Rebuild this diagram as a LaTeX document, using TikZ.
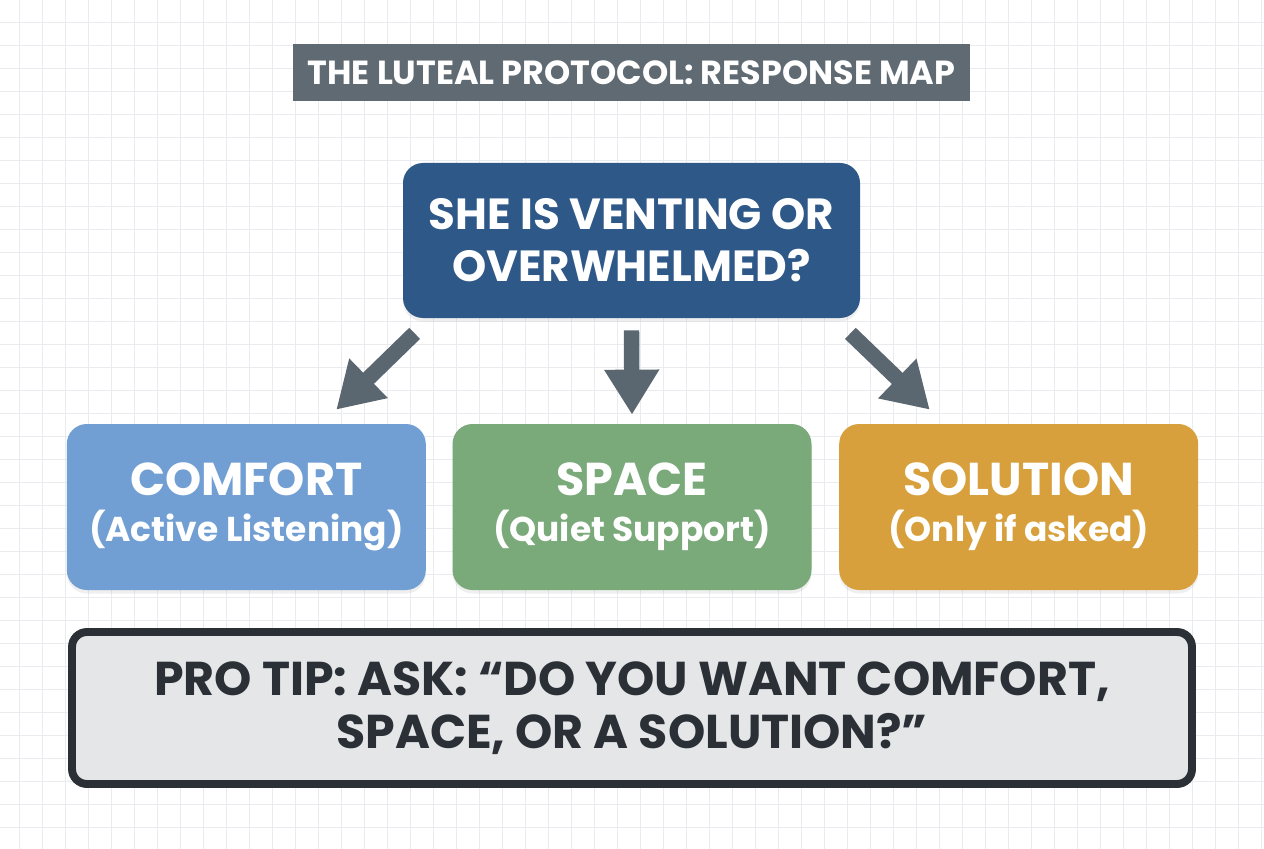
\documentclass[tikz,border=0pt]{standalone}
\usepackage{fontspec}
\setmainfont{Poppins}
\usepackage{tikz}
\usetikzlibrary{arrows.meta,positioning,calc,shadows}
\definecolor{Slate}{RGB}{95,106,114}
\definecolor{Navy}{RGB}{46,88,136}
\definecolor{SkyBlue}{RGB}{114,159,211}
\definecolor{Sage}{RGB}{122,169,122}
\definecolor{Amber}{RGB}{216,160,60}
\definecolor{TipFill}{RGB}{228,230,232}
\definecolor{TipInk}{RGB}{42,48,54}
\definecolor{ArrowGray}{RGB}{90,103,112}
\definecolor{GridLine}{RGB}{234,235,238}
\newcommand{\optname}[1]{{\fontsize{26.2}{30}\selectfont\bfseries #1}}
\tikzset{
  banner/.style={fill=Slate,minimum width=13.54cm,minimum height=1.14cm,text=white,font=\fontsize{19}{22}\selectfont\bfseries},
  question/.style={fill=Navy,rounded corners=0.4cm,minimum width=9.14cm,minimum height=3.1cm,text=white,align=center,font=\fontsize{24.8}{29.5}\selectfont\bfseries,drop shadow={opacity=0.12,shadow xshift=0pt,shadow yshift=-2pt}},
  choice/.style={rounded corners=0.4cm,minimum width=7.18cm,minimum height=3.32cm,text=white,align=center,font=\fontsize{19.6}{26}\selectfont\bfseries,drop shadow={opacity=0.12,shadow xshift=0pt,shadow yshift=-2pt}},
  tipbox/.style={draw=TipInk,fill=TipFill,line width=4.5pt,rounded corners=0.3cm,minimum width=22.4cm,minimum height=3.04cm,text=TipInk,align=center,font=\fontsize{27}{30.5}\selectfont\bfseries},
  flowarrow/.style={-{Triangle[width=1.04cm,length=0.9cm]},draw=ArrowGray,line width=8.8pt}
}

\begin{document}
\begin{tikzpicture}
\useasboundingbox (0,0) rectangle (25.28,16.96);
\fill[white] (0,0) rectangle (25.28,16.96);
\begin{scope}
\clip (0,0) rectangle (25.28,16.96);
\draw[GridLine,line width=0.5pt,shift={(0.38,0.42)},step=0.46] (-0.92,-0.92) grid (25.3,16.98);
\end{scope}
% header and question
\node[banner](title) at (12.63,15.51){THE LUTEAL PROTOCOL: RESPONSE MAP};
\node[question](q) at (12.63,12.15){SHE IS VENTING OR\\OVERWHELMED?};
% three responses
\node[choice,fill=Sage](space) at (12.64,6.82){\optname{SPACE}\\(Quiet Support)};
\node[choice,fill=SkyBlue,left=0.52cm of space](comfort){\optname{COMFORT}\\(Active Listening)};
\node[choice,fill=Amber,right=0.54cm of space](solution){\optname{SOLUTION}\\(Only if asked)};
\draw[flowarrow]([shift={(0.24,-0.3)}]q.south west)--([shift={(1.8,0.28)}]comfort.north);
\draw[flowarrow]([yshift=-0.24cm]q.south)--([yshift=0.18cm]space.north);
\draw[flowarrow]([shift={(-0.2,-0.3)}]q.south east)--([shift={(-1.78,0.28)}]solution.north);
% tip
\node[tipbox](tip) at (12.64,2.80){PRO TIP: ASK: “DO YOU WANT COMFORT,\\SPACE, OR A SOLUTION?”};
\end{tikzpicture}
\end{document}
